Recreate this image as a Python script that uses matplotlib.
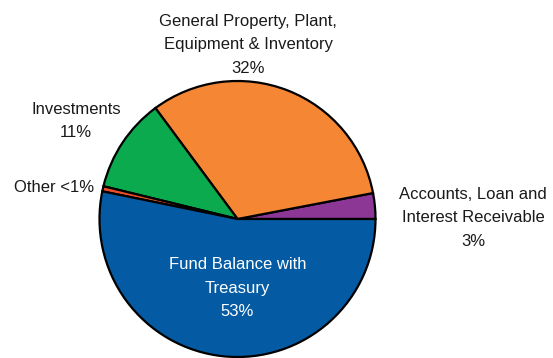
import matplotlib
matplotlib.use("Agg")
import matplotlib.pyplot as plt

plt.rcParams['font.family'] = ['Liberation Sans', 'DejaVu Sans']

# Asset composition (percent of total)
categories = [
    "Accounts, Loan and\nInterest Receivable",
    "General Property, Plant,\nEquipment & Inventory",
    "Investments",
    "Other",
    "Fund Balance with\nTreasury",
]
shares = [3, 32, 11, 0.6, 53]
share_text = ["3%", "32%", "11%", "<1%", "53%"]
colors = ["#8C3795", "#F58634", "#0BAA4F", "#E8502B", "#045BA3"]

W, H = 553, 358
fig = plt.figure(figsize=(W / 100, H / 100), dpi=100)
ax = fig.add_axes([0, 0, 1, 1])

cx, cy, r = 237.5, H - 219, 138
ax.pie(shares, colors=colors, startangle=0, counterclock=True,
       center=(cx, cy), radius=r,
       wedgeprops=dict(edgecolor="black", linewidth=1.6))
ax.set_xlim(0, W)
ax.set_ylim(0, H)
ax.set_aspect("equal")
ax.axis("off")

fs = 12
ls = 1.7
# label placement in pixel coordinates (x, y from top)
label_pos = [
    (473, 218, "center"),
    (248, 45, "center"),
    (76, 121, "center"),
    (94, 187, "right"),
    (237.5, 288, "center"),
]
for i, (name, pct) in enumerate(zip(categories, share_text)):
    x, y, ha = label_pos[i]
    if name == "Other":
        txt = f"{name} {pct}"
    else:
        txt = f"{name}\n{pct}"
    color = "white" if i == 4 else "#1a1a1a"
    ax.text(x, H - y, txt, ha=ha, va="center", fontsize=fs,
            color=color, linespacing=ls, multialignment="center")

fig.savefig("out.png", dpi=100)
